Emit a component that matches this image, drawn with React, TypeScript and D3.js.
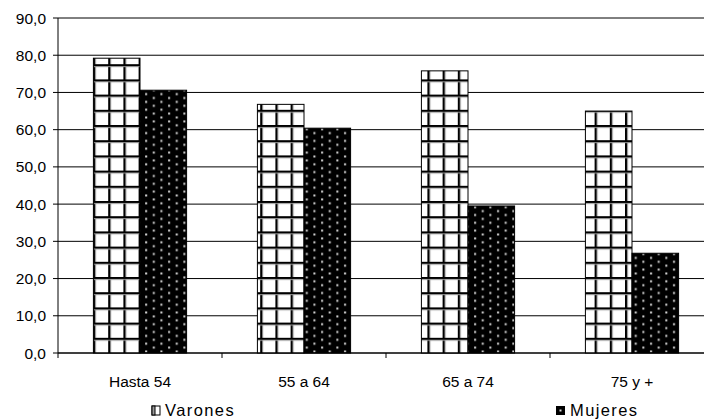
import React from "react";
import * as d3 from "d3";

const categories = ["Hasta 54", "55 a 64", "65 a 74", "75 y +"];
const seriesNames = ["Varones", "Mujeres"];
const varones = [79.2, 66.8, 75.8, 65.0];
const mujeres = [70.6, 60.4, 39.5, 26.8];
const yTicks = [0, 10, 20, 30, 40, 50, 60, 70, 80, 90];

const W = 704;
const H = 420;
const left = 58;
const right = 714;
const top = 18;
const bottom = 353;
const font = "'Liberation Sans', Arial, sans-serif";

export default function App() {
  const x = d3.scaleBand<string>().domain(categories).range([left, right]).padding(0);
  const x1 = d3
    .scaleBand<string>()
    .domain(seriesNames)
    .range([0, x.step()])
    .paddingInner(0)
    .paddingOuter(0.76);
  const y = d3.scaleLinear().domain([0, 90]).range([bottom, top]);
  const data = [varones, mujeres];
  const fills = ["url(#grid)", "url(#dots)"];
  const fmt = (v: number) => d3.format(".1f")(v).replace(".", ",");
  const boundaries = d3.range(categories.length + 1).map((i) => left + i * x.step());

  return (
    <svg
      width={W}
      height={H}
      style={{ position: "absolute", left: 0, top: 0, display: "block", background: "#fff" }}
    >
      <defs>
        <pattern id="grid" patternUnits="userSpaceOnUse" width={15.2} height={15.2} x={left + 35} y={bottom}>
          <rect width={15.2} height={15.2} fill="#fff" />
          <rect x={0} y={0} width={2} height={15.2} fill="#000" />
          <rect x={2} y={0} width={1} height={15.2} fill="#888" />
          <rect x={0} y={0} width={15.2} height={2} fill="#000" />
          <rect x={0} y={2} width={15.2} height={1} fill="#999" />
        </pattern>
        <pattern id="dots" patternUnits="userSpaceOnUse" width={15.3} height={7.8} x={left} y={bottom}>
          <rect width={15.3} height={7.8} fill="#000" />
          <rect x={3} y={1.4} width={2} height={2} fill="#d8d8d8" />
          <rect x={10.65} y={5.3} width={2} height={2} fill="#d8d8d8" />
        </pattern>
      </defs>

      {yTicks.map((t) => (
        <g key={t}>
          <line x1={53} x2={W} y1={y(t)} y2={y(t)} stroke="#000" strokeWidth={1} />
          <text
            x={46}
            y={y(t) + 5.5}
            textAnchor="end"
            fontFamily={font}
            fontSize={15.5}
            fill="#000"
          >
            {fmt(t)}
          </text>
        </g>
      ))}

      {categories.map((c, i) =>
        seriesNames.map((s, j) => {
          const v = data[j][i];
          const bx = (x(c) as number) + (x1(s) as number);
          return (
            <rect
              key={c + s}
              x={bx}
              y={y(v)}
              width={x1.bandwidth()}
              height={bottom - y(v)}
              fill={fills[j]}
              stroke="#000"
              strokeWidth={1}
            />
          );
        })
      )}

      <line x1={left} x2={left} y1={top} y2={bottom} stroke="#000" strokeWidth={1} />
      <line x1={left} x2={W} y1={bottom} y2={bottom} stroke="#000" strokeWidth={1} />
      {boundaries.map((b, i) => (
        <line key={i} x1={b} x2={b} y1={bottom} y2={bottom + 5} stroke="#000" strokeWidth={1} />
      ))}

      {categories.map((c) => (
        <text
          key={c}
          x={(x(c) as number) + x.bandwidth() / 2}
          y={387}
          textAnchor="middle"
          fontFamily={font}
          fontSize={15.5}
          fill="#000"
        >
          {c}
        </text>
      ))}

      <g>
        <rect x={152} y={406} width={8} height={9} fill="#fff" stroke="#000" strokeWidth={1} />
        <rect x={152} y={406} width={3} height={9} fill="#999" stroke="#000" strokeWidth={1} />
        <text x={165} y={416} fontFamily={font} fontSize={16.5} letterSpacing={1.4} fill="#000">
          {seriesNames[0]}
        </text>
      </g>
      <g>
        <rect x={556} y={406} width={9} height={9} fill="#000" />
        <rect x={559.5} y={409.5} width={2} height={2} fill="#d8d8d8" />
        <text x={570} y={416} fontFamily={font} fontSize={16.5} letterSpacing={1.4} fill="#000">
          {seriesNames[1]}
        </text>
      </g>
    </svg>
  );
}
